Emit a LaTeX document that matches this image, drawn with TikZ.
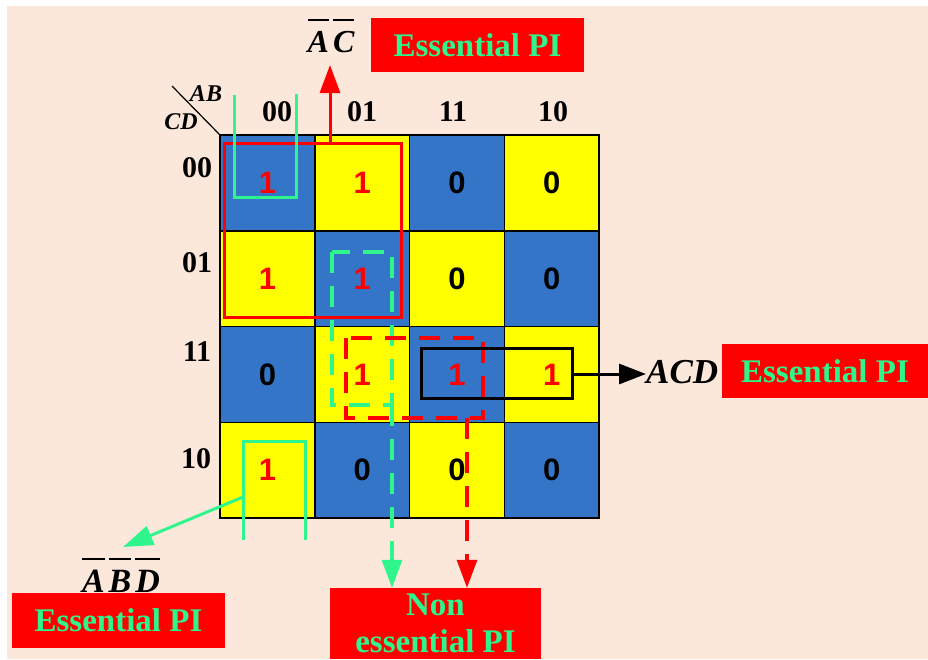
\documentclass[tikz,border=0pt]{standalone}
\usepackage{fontspec}
\setmainfont{Liberation Serif}
\newfontfamily\digitfont{Liberation Sans}
\usetikzlibrary{arrows.meta}
\definecolor{bgpeach}{RGB}{252,232,218}
\definecolor{cellblue}{RGB}{53,117,200}
\definecolor{cellyellow}{RGB}{255,255,0}
\definecolor{pigreen}{RGB}{46,245,140}
\definecolor{pired}{RGB}{255,0,0}
\newcommand{\ovl}[1]{\vbox{\hrule height 2pt\kern 10pt\hbox{#1}}}
\tikzset{
  cell/.style={draw=black, line width=1.5pt, minimum width=94.75pt, minimum height=95.75pt, inner sep=0pt,
    font=\digitfont\bfseries\fontsize{31}{31}\selectfont},
  hdr/.style={inner sep=0pt, font=\bfseries\fontsize{30}{30}\selectfont},
  varlbl/.style={inner sep=0pt, font=\bfseries\itshape\fontsize{24}{24}\selectfont},
  termlbl/.style={inner sep=0pt, font=\bfseries\itshape\fontsize{34}{34}\selectfont},
  pibox/.style={fill=pired, text=pigreen, inner sep=0pt, align=center,
    font=\bfseries\fontsize{33}{37}\selectfont},
  solidgrp/.style={line width=3pt},
  dashgrp/.style={line width=3.5pt, dash pattern=on 21pt off 13pt},
  bigtip/.style={-{Triangle[length=28pt,width=20pt]}}
}
\begin{document}
\begin{tikzpicture}[x=1pt,y=-1pt]
\useasboundingbox (0,0) rectangle (928,659);
\fill[white] (0,0) rectangle (928,659);
\fill[bgpeach] (7,6) rectangle (928,659);

% cells
\foreach \r/\c/\f/\v/\t in {0/0/cellblue/1/pired, 0/1/cellyellow/1/pired, 0/2/cellblue/0/black, 0/3/cellyellow/0/black,
  1/0/cellyellow/1/pired, 1/1/cellblue/1/pired, 1/2/cellyellow/0/black, 1/3/cellblue/0/black,
  2/0/cellblue/0/black, 2/1/cellyellow/1/pired, 2/2/cellblue/1/pired, 2/3/cellyellow/1/pired,
  3/0/cellyellow/1/pired, 3/1/cellblue/0/black, 3/2/cellyellow/0/black, 3/3/cellblue/0/black}
  \node[cell, fill=\f, text=\t] (m\r\c) at ({220+94.75*(\c+0.5)},{135+95.75*(\r+0.5)}) {\v};

% headers
\node[hdr] (h0) at (277,112) {00};
\node[hdr] (h1) at (362,112) {01};
\node[hdr] (h2) at (453,112) {11};
\node[hdr] (h3) at (553,112) {10};
\node[hdr] (r0) at (197,168) {00};
\node[hdr] (r1) at (197,263) {01};
\node[hdr] (r2) at (197,352) {11};
\node[hdr] (r3) at (196,459) {10};

% corner
\coordinate (dg1) at (172,86);
\draw[line width=1.2pt] (dg1) -- (m00.north west);
\node[varlbl] (ab) at (206,94) {AB};
\node[varlbl] (cd) at (181,122) {CD};

% A'C' group
\coordinate (rq1) at (224,143);
\coordinate (rq2) at (401,317);
\draw[pired, solidgrp] (rq1) rectangle (rq2);
\node[termlbl, anchor=base, font=\bfseries\itshape\fontsize{32}{32}\selectfont] (acbar) at (331,52) {\ovl{A}\kern4pt\ovl{C}};
\coordinate (acsrc) at (330,143);
\coordinate (actip) at (330,65);
\draw[pired, solidgrp, bigtip] (acsrc) -- (actip);
\node[pibox, minimum width=213pt, minimum height=54pt] (e1) at (477.5,45) {Essential PI};

% top green bracket (wrap)
\draw[pigreen, solidgrp] (234,95) -- (234,197) -- (296,197) -- (296,94);
% bottom green bracket (wrap)
\draw[pigreen, solidgrp] (243,540) -- (243,441) -- (305,441) -- (305,540);
\coordinate (bgsrc) at (243,497);
\coordinate (bgtip) at (123,547);
\draw[pigreen, solidgrp, -{Triangle[length=30pt,width=20pt]}] (bgsrc) -- (bgtip);
\node[termlbl, anchor=base] (abdbar) at (121,592) {\ovl{A}\kern4pt\ovl{B}\kern4pt\ovl{D}};
\node[pibox, minimum width=213pt, minimum height=55pt] (e3) at (118.5,620.5) {Essential PI};

% non essential groups
\draw[pigreen, dashgrp] (332,252) rectangle (392,405);
\draw[pired, dashgrp] (346,338) rectangle (483,418);
\node[pibox, minimum width=211pt, minimum height=71pt] (ne) at (435.5,623.5) {Non\\essential PI};
\coordinate (gdsrc) at (392,405);
\coordinate (rdsrc) at (467,418);
\draw[pigreen, dashgrp] (gdsrc) -- (392,560);
\draw[pigreen, solidgrp, bigtip] (392,555) -- (ne.north -| gdsrc);
\draw[pired, dashgrp] (rdsrc) -- (467,560);
\draw[pired, solidgrp, bigtip] (467,555) -- (ne.north -| rdsrc);

% ACD group
\coordinate (bk1) at (421,348);
\coordinate (bk2) at (572,398);
\draw[black, solidgrp] (bk1) rectangle (bk2);
\node[termlbl, anchor=base west, font=\bfseries\itshape\fontsize{35}{35}\selectfont] (acd) at (646,383) {ACD};
\coordinate (bksrc) at (572,374);
\draw[black, solidgrp, -{Triangle[length=27pt,width=20pt]}] (bksrc) -- (acd.west |- bksrc);
\node[pibox, minimum width=206pt, minimum height=54pt] (e2) at (825,371) {Essential PI};
\end{tikzpicture}
\end{document}
